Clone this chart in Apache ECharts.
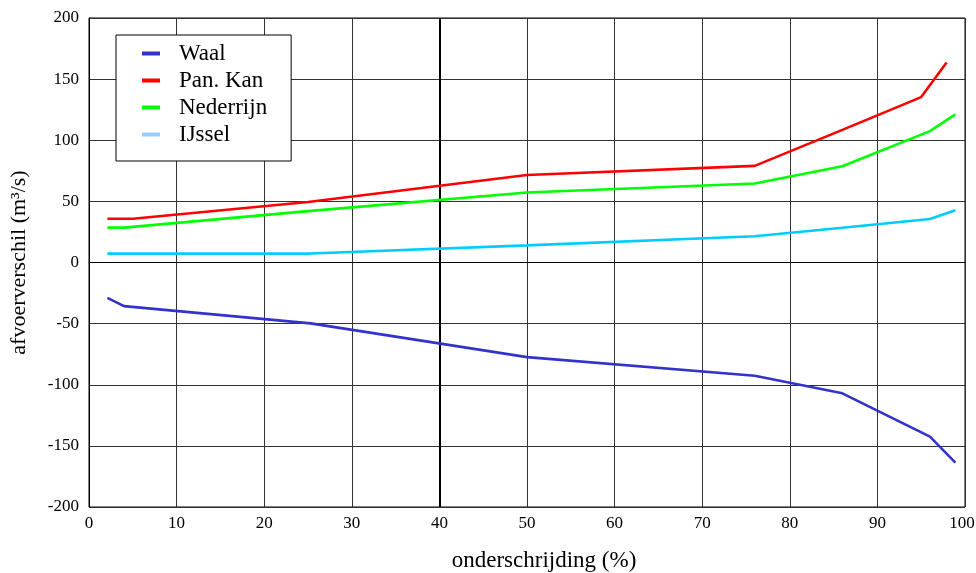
<!DOCTYPE html>
<html>
<head>
<meta charset="utf-8">
<script src="https://cdn.jsdelivr.net/npm/echarts@6/dist/echarts.min.js"></script>
<style>html,body{margin:0;padding:0;background:#fff}#c{width:976px;height:573px}</style>
</head>
<body>
<div id="c"></div>
<script>
const waalX = [2.1, 4, 25.3, 50, 76, 86, 96, 98.9];
const waalY = [-29, -35.7, -49.8, -77.4, -92.6, -107, -142.5, -163.7];
const panKanX = [2.1, 5, 25, 50, 76, 86, 95, 97.9];
const panKanY = [35.8, 35.8, 49.5, 71.6, 79, 108.5, 135.3, 163.6];
const nederrijnX = [2.1, 4, 25, 50, 76, 86, 96, 98.9];
const nederrijnY = [28.5, 28.5, 42, 57.2, 64.6, 78.7, 107.5, 121.2];
const ijsselX = [2.1, 4, 25.3, 50, 76, 86, 96, 98.9];
const ijsselY = [7.3, 7.3, 7.3, 14, 21.5, 28.4, 35.6, 42.7];
const xTicks = [0, 10, 20, 30, 40, 50, 60, 70, 80, 90, 100];
const yTicks = [-200, -150, -100, -50, 0, 50, 100, 150, 200];

const pair = (xs, ys) => xs.map((x, i) => [x, ys[i]]);
const font = '"Liberation Serif", "Times New Roman", serif';

const chart = echarts.init(document.getElementById('c'));
const mk = (name, xs, ys, color) => ({
  name, type: 'line', data: pair(xs, ys), showSymbol: false, symbol: 'none',
  lineStyle: { color, width: 2.6 }, itemStyle: { color }, z: 5, animation: false
});
const s1 = mk('Waal', waalX, waalY, '#3333cc');
s1.markLine = {
  silent: true, symbol: 'none', label: { show: false },
  lineStyle: { color: '#000', width: 2, type: 'solid' },
  data: [{ xAxis: 40 }], animation: false
};
chart.setOption({
  animation: false,
  grid: { left: 89, right: 11, top: 18, bottom: 66, show: true, borderColor: '#000', borderWidth: 1,
    containLabel: false, outerBoundsMode: 'none' },
  xAxis: {
    type: 'value', min: 0, max: 100, interval: 10,
    name: 'onderschrijding (%)', nameLocation: 'middle', nameGap: 42,
    nameTextStyle: { fontFamily: font, fontSize: 23, color: '#000', padding: [0, 0, 0, 34] },
    axisLine: { lineStyle: { color: '#000' } }, axisTick: { show: false },
    axisLabel: { fontFamily: font, fontSize: 17, color: '#000', margin: 8,
      formatter: v => !xTicks.includes(v) ? '' : (v === 100 ? '{r|100}' : String(v)),
      rich: { r: { fontFamily: font, fontSize: 17, color: '#000', padding: [0, 6, 0, 0] } } },
    splitLine: { show: true, lineStyle: { color: '#333', width: 1 } }
  },
  yAxis: {
    type: 'value', min: -200, max: 200, interval: 50,
    name: 'afvoerverschil (m³/s)', nameLocation: 'middle', nameGap: 59,
    nameTextStyle: { fontFamily: font, fontSize: 22, color: '#000' },
    axisLine: { lineStyle: { color: '#000' } }, axisTick: { show: false },
    axisLabel: { fontFamily: font, fontSize: 17, color: '#000', margin: 10,
      formatter: v => yTicks.includes(v) ? String(v) : '' },
    splitLine: { show: true, lineStyle: { color: '#333', width: 1 } }
  },
  legend: {
    left: 116, top: 35, orient: 'vertical',
    padding: [7, 24, 15, 26], itemGap: 4,
    backgroundColor: '#fff', borderColor: '#000', borderWidth: 1,
    icon: 'rect', itemWidth: 18, itemHeight: 4,
    textStyle: { fontFamily: font, fontSize: 23, color: '#000', padding: [0, 0, 0, 14], lineHeight: 20 },
    data: [
      { name: 'Waal', itemStyle: { color: '#3333cc' } },
      { name: 'Pan. Kan', itemStyle: { color: '#ff0000' } },
      { name: 'Nederrijn', itemStyle: { color: '#00ff00' } },
      { name: 'IJssel', itemStyle: { color: '#99ccff' } }
    ]
  },
  series: [
    s1,
    mk('Pan. Kan', panKanX, panKanY, '#ff0000'),
    mk('Nederrijn', nederrijnX, nederrijnY, '#00ff00'),
    mk('IJssel', ijsselX, ijsselY, '#00ccff')
  ]
});
</script>
</body>
</html>
